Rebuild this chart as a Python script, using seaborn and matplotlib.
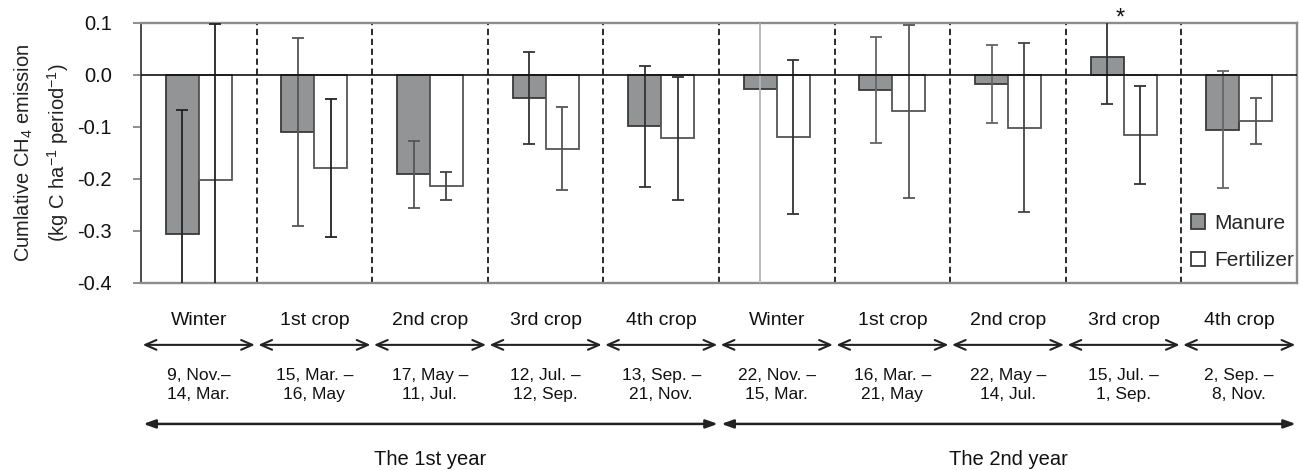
import numpy as np
import pandas as pd
import matplotlib
matplotlib.use("Agg")
import matplotlib.pyplot as plt
import matplotlib.transforms as mtransforms
import seaborn as sns

# ---------------- data ----------------
period_labels = ["Winter", "1st crop", "2nd crop", "3rd crop", "4th crop",
                 "Winter", "1st crop", "2nd crop", "3rd crop", "4th crop"]
period_ids = ["Y1 Winter", "Y1 1st crop", "Y1 2nd crop", "Y1 3rd crop", "Y1 4th crop",
              "Y2 Winter", "Y2 1st crop", "Y2 2nd crop", "Y2 3rd crop", "Y2 4th crop"]
date_ranges = ["9, Nov.\u2013\n14, Mar.", "15, Mar. \u2013\n16, May", "17, May \u2013\n11, Jul.",
               "12, Jul. \u2013\n12, Sep.", "13, Sep. \u2013\n21, Nov.", "22, Nov. \u2013\n15, Mar.",
               "16, Mar. \u2013\n21, May", "22, May \u2013\n14, Jul.", "15, Jul. \u2013\n1, Sep.",
               "2, Sep. \u2013\n8, Nov."]
year_labels = ["The 1st year", "The 2nd year"]
periods_per_year = [5, 5]
treatments = ["Manure", "Fertilizer"]

manure_mean = [-0.305, -0.110, -0.191, -0.044, -0.099, -0.027, -0.029, -0.018, 0.034, -0.105]
manure_err = [0.238, 0.181, 0.065, 0.089, 0.117, 0.45, 0.102, 0.075, 0.090, 0.113]
fert_mean = [-0.201, -0.179, -0.214, -0.142, -0.122, -0.119, -0.070, -0.101, -0.116, -0.088]
fert_err = [0.300, 0.132, 0.027, 0.080, 0.118, 0.148, 0.167, 0.162, 0.094, 0.044]
significant = [False, False, False, False, False, False, False, False, True, False]

ytick_values = [-0.4, -0.3, -0.2, -0.1, 0.0, 0.1]
ytick_labels = ["-0.4", "-0.3", "-0.2", "-0.1", "0.0", "0.1"]

# style (not data)
manure_errcolors = ["#222222", "#555555", "#555555", "#333333", "#333333",
                    "#b5b5b5", "#666666", "#666666", "#333333", "#666666"]
fert_errcolors = ["#222222", "#222222", "#444444", "#555555", "#333333",
                  "#333333", "#555555", "#444444", "#333333", "#555555"]

# ---------------- figure ----------------
sns.set_theme(style="white")
plt.rcParams["font.family"] = ["Liberation Sans", "DejaVu Sans"]
plt.rcParams["mathtext.fontset"] = "custom"
plt.rcParams["mathtext.rm"] = "Liberation Sans"
plt.rcParams["mathtext.it"] = "Liberation Sans:italic"
plt.rcParams["mathtext.bf"] = "Liberation Sans:bold"

df = pd.DataFrame({
    "period": period_ids * 2,
    "value": manure_mean + fert_mean,
    "treatment": ["Manure"] * len(period_ids) + ["Fertilizer"] * len(period_ids),
})

fig = plt.figure(figsize=(12.99, 4.70), dpi=100)
ax = fig.add_axes([141 / 1299, 1 - 283 / 470, 1156 / 1299, 260 / 470])

sns.barplot(data=df, x="period", y="value", hue="treatment", order=period_ids,
            hue_order=treatments, palette={"Manure": "#939496", "Fertilizer": "white"},
            width=0.57, gap=0, errorbar=None, linewidth=1.3, edgecolor="#3a3a3a",
            ax=ax, zorder=3)

# edge colours per series
for cont, ec in zip(ax.containers, ["#3a3a3a", "#555555"]):
    for bar in cont:
        bar.set_edgecolor(ec)

# error bars drawn at the bar centres
for cont, errs, cols in zip(ax.containers, [manure_err, fert_err], [manure_errcolors, fert_errcolors]):
    for bar, e, c in zip(cont, errs, cols):
        xc = bar.get_x() + bar.get_width() / 2
        yv = bar.get_y() + bar.get_height()
        ax.errorbar(xc, yv, yerr=e, fmt="none", ecolor=c, elinewidth=1.3,
                    capsize=4, capthick=1.3, zorder=4)

ax.set_xlim(-0.5, len(period_ids) - 0.5)
ax.set_ylim(-0.4, 0.1)
ax.set_yticks(ytick_values)
ax.set_yticklabels(ytick_labels)
ax.set_xticks([])
ax.set_xlabel("")
ax.set_ylabel("")
ax.tick_params(axis="y", which="major", left=True, length=6, width=1.2,
               color="#7a7a7a", pad=15, labelsize=14.5, labelcolor="#111111", direction="out")

for name, sp in ax.spines.items():
    sp.set_color("#8c8c8c")
    sp.set_linewidth(1.7)
ax.spines["left"].set_color("#4a4a4a")
ax.spines["left"].set_linewidth(1.4)

ax.axhline(0, color="#111111", lw=1.2, zorder=5)
for k in range(1, len(period_ids)):
    ax.axvline(k - 0.5, color="#2a2a2a", lw=1.4, linestyle=(0, (3.2, 1.9)), zorder=2)

# significance marker
for i, s in enumerate(significant):
    if s:
        ax.text(i - 0.03, 0.088, "*", ha="center", va="bottom", fontsize=17,
                color="#111111", clip_on=False)

# y label (two lines)
ax.text(-0.1015, 0.5, "Cumlative CH$_4$ emission", transform=ax.transAxes,
        rotation=90, ha="center", va="center", fontsize=14.5, color="#222222")
ax.text(-0.0715, 0.5, "(kg C ha$^{-1}$ period$^{-1}$)", transform=ax.transAxes,
        rotation=90, ha="center", va="center", fontsize=14.5, color="#222222")

# legend
sns.move_legend(ax, loc="center left", bbox_to_anchor=(0.908, 0.158), frameon=False,
                title=None, fontsize=15, handlelength=0.7, handleheight=0.7,
                handletextpad=0.45, labelspacing=0.9, borderpad=0, borderaxespad=0)

# ---------------- annotations below the axis ----------------
trans = mtransforms.blended_transform_factory(ax.transData, ax.transAxes)
for i, (lab, dr) in enumerate(zip(period_labels, date_ranges)):
    ax.text(i, -0.146, lab, transform=trans, ha="center", va="center",
            fontsize=14, color="#111111", clip_on=False)
    ax.annotate("", xy=(i + 0.485, -0.238), xytext=(i - 0.485, -0.238),
                xycoords=trans, textcoords=trans, annotation_clip=False,
                arrowprops=dict(arrowstyle="<->,head_length=0.8,head_width=0.35",
                                mutation_scale=10, lw=1.5, color="#222222",
                                shrinkA=0, shrinkB=0))
    ax.text(i, -0.392, dr, transform=trans, ha="center", va="center",
            fontsize=12.5, color="#111111", linespacing=1.35, clip_on=False)

start = -0.5
for ylab, n in zip(year_labels, periods_per_year):
    x0, x1 = start + 0.02, start + n - 0.01
    ax.annotate("", xy=(x1, -0.542), xytext=(x0, -0.542),
                xycoords=trans, textcoords=trans, annotation_clip=False,
                arrowprops=dict(arrowstyle="<|-|>,head_length=0.7,head_width=0.25",
                                mutation_scale=10, lw=1.8, color="#222222",
                                shrinkA=0, shrinkB=0))
    ax.text(start + n / 2, -0.68, ylab, transform=trans, ha="center", va="center",
            fontsize=14.5, color="#111111", clip_on=False)
    start += n

fig.savefig("out.png", dpi=100, facecolor="white")
